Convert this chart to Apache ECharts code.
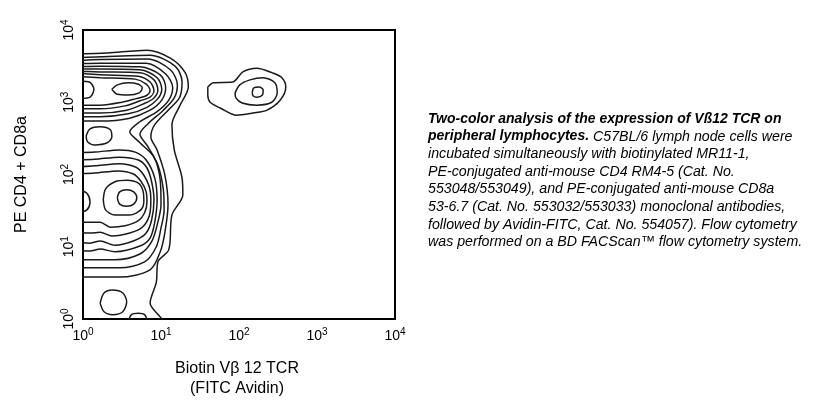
<!DOCTYPE html>
<html><head><meta charset="utf-8">
<script src="https://cdn.jsdelivr.net/npm/echarts@6/dist/echarts.min.js"></script>
<style>html,body{margin:0;padding:0;background:#fff}#c{width:815px;height:404px}</style>
</head><body><div id="c"></div>
<script>
// Axis decades (log10 of fluorescence), tick labels are 10^n
const tickExponents = [0, 1, 2, 3, 4];
const xTitle = 'Biotin V\u03b2 12 TCR\n(FITC Avidin)';
const yTitle = 'PE CD4 + CD8a';

// Contour lines, points given as [log10 FITC, log10 PE]
const E1 = [[-0.15,3.67],[0.03,3.67],[0.31,3.68],[0.82,3.72],[1.12,3.61],[1.31,3.41],[1.35,3.21],[1.24,2.95],[1.14,2.69],[1.17,2.34],[1.27,1.95],[1.28,1.72],[1.14,1.44],[1.10,0.96],[0.96,0.79],[0.94,0.51],[0.86,0.22],[1.01,0],[1.06,-0.15],[-0.15,-0.15]];
const E2 = [[-0.15,3.61],[0.22,3.63],[0.86,3.65],[1.18,3.50],[1.27,3.28],[1.24,3.07],[1.12,2.92],[0.92,2.69],[0.87,2.52],[0.95,2.34],[1.05,1.99],[1.09,1.58],[1.05,1.20],[0.99,0.93],[0.86,0.68],[0.47,0.58],[0.15,0.58],[-0.15,0.58]];
const E3 = [[-0.15,3.57],[0.22,3.59],[0.83,3.60],[1.12,3.45],[1.21,3.24],[1.17,3.06],[1.03,2.89],[0.83,2.70],[0.73,2.56],[0.83,2.39],[0.96,2.13],[1.03,1.79],[1.04,1.51],[1.00,1.26],[0.94,1.00],[0.79,0.79],[0.47,0.71],[0.15,0.71],[-0.15,0.71]];
const E4 = [[-0.15,3.53],[0.22,3.54],[0.81,3.54],[1.06,3.39],[1.15,3.20],[1.10,3.03],[0.95,2.87],[0.73,2.73],[0.60,2.59],[0.73,2.44],[0.91,2.24],[0.99,1.92],[1.00,1.58],[0.96,1.34],[0.88,1.07],[0.73,0.90],[0.41,0.82],[0.15,0.82],[-0.15,0.82]];
const T1 = [[-0.15,3.49],[0.22,3.50],[0.73,3.49],[0.99,3.38],[1.06,3.20],[1.01,3.03],[0.86,2.89],[0.60,2.78],[0.22,2.74],[-0.15,2.74]];
const T2 = [[-0.15,3.46],[0.22,3.46],[0.73,3.45],[0.95,3.34],[1.01,3.18],[0.96,3.05],[0.82,2.93],[0.58,2.84],[0.22,2.80],[-0.15,2.80]];
const T3 = [[-0.15,3.43],[0.22,3.42],[0.73,3.41],[0.91,3.31],[0.96,3.17],[0.91,3.06],[0.78,2.98],[0.56,2.89],[0.22,2.85],[-0.15,2.85]];
const T4 = [[-0.15,3.41],[0.22,3.38],[0.71,3.36],[0.86,3.28],[0.91,3.16],[0.86,3.07],[0.73,3.02],[0.54,2.95],[0.22,2.91],[-0.15,2.91]];
const T5 = [[-0.15,3.36],[0.22,3.34],[0.67,3.32],[0.81,3.25],[0.86,3.16],[0.81,3.09],[0.68,3.05],[0.50,3.00],[0.22,2.96],[-0.15,2.96]];
const TI = [[0.37,3.18],[0.44,3.24],[0.58,3.27],[0.71,3.25],[0.76,3.20],[0.72,3.13],[0.58,3.10],[0.44,3.11],[0.37,3.18]];
const TL = [[-0.05,3.29],[0.08,3.28],[0.14,3.18],[0.09,3.07],[-0.05,3.05]];
const M1 = [[0.04,2.53],[0.09,2.63],[0.22,2.66],[0.35,2.62],[0.37,2.52],[0.31,2.44],[0.15,2.41],[0.06,2.45],[0.04,2.53]];
const Q4 = [[-0.15,2.30],[0.15,2.31],[0.47,2.34],[0.67,2.31],[0.81,2.20],[0.92,1.95],[0.95,1.65],[0.92,1.34],[0.86,1.12],[0.73,1.01],[0.41,0.93],[0.22,0.97],[0.09,0.94],[-0.15,0.96]];
const Q3 = [[-0.15,2.20],[0.15,2.21],[0.47,2.24],[0.71,2.20],[0.82,2.09],[0.88,1.90],[0.91,1.65],[0.88,1.37],[0.81,1.19],[0.67,1.09],[0.41,1.02],[0.22,1.08],[0.09,1.05],[-0.15,1.07]];
const Q2 = [[-0.15,2.10],[0.15,2.12],[0.47,2.15],[0.68,2.10],[0.78,1.99],[0.85,1.83],[0.87,1.65],[0.85,1.43],[0.76,1.27],[0.60,1.19],[0.37,1.15],[0.22,1.20],[0.09,1.19],[-0.15,1.20]];
const Q1 = [[-0.15,2.01],[0.15,2.02],[0.45,2.05],[0.64,2.01],[0.74,1.91],[0.81,1.76],[0.82,1.62],[0.79,1.47],[0.71,1.36],[0.54,1.29],[0.35,1.27],[0.22,1.34],[0.09,1.34],[-0.15,1.34]];
const P1 = [[0.26,1.65],[0.29,1.80],[0.41,1.90],[0.56,1.92],[0.71,1.88],[0.77,1.77],[0.78,1.63],[0.74,1.51],[0.60,1.44],[0.41,1.44],[0.29,1.51],[0.26,1.65]];
const P0 = [[0.44,1.68],[0.47,1.76],[0.56,1.79],[0.65,1.76],[0.69,1.68],[0.65,1.59],[0.56,1.56],[0.47,1.59],[0.44,1.68]];
const LL = [[-0.05,1.79],[0.05,1.74],[0.09,1.62],[0.05,1.51],[-0.05,1.47]];
const B1 = [[0.22,0.22],[0.27,0.36],[0.38,0.40],[0.51,0.36],[0.56,0.24],[0.51,0.10],[0.38,0.06],[0.27,0.10],[0.22,0.22]];
const B2 = [[0.58,-0.04],[0.62,0.06],[0.71,0.08],[0.79,0.06],[0.83,-0.04]];
const R1 = [[1.60,3.21],[1.67,3.27],[1.92,3.28],[2.05,3.42],[2.23,3.47],[2.42,3.41],[2.55,3.34],[2.60,3.21],[2.53,3.03],[2.36,2.89],[2.18,2.85],[1.97,2.82],[1.76,2.92],[1.63,3.00],[1.60,3.10],[1.60,3.21]];
const R2 = [[1.95,3.13],[2.01,3.24],[2.14,3.31],[2.31,3.34],[2.46,3.27],[2.49,3.13],[2.42,3.00],[2.23,2.96],[2.04,2.99],[1.96,3.06],[1.95,3.13]];
const R3 = [[2.17,3.14],[2.19,3.20],[2.26,3.21],[2.31,3.17],[2.30,3.10],[2.23,3.07],[2.18,3.09],[2.17,3.14]];

const contours = [E1,E2,E3,E4,T1,T2,T3,T4,T5,TI,TL,M1,Q4,Q3,Q2,Q1,P1,P0,LL,B1,B2,R1,R2,R3];

const captionLines = [
  [['b','Two-color analysis of the expression of V\u00df12 TCR on']],
  [['b','peripheral lymphocytes.'],['i',' C57BL/6 lymph node cells were']],
  [['i','incubated simultaneously with biotinylated MR11-1,']],
  [['i','PE-conjugated anti-mouse CD4 RM4-5 (Cat. No.']],
  [['i','553048/553049), and PE-conjugated anti-mouse CD8a']],
  [['i','53-6.7 (Cat. No. 553032/553033) monoclonal antibodies,']],
  [['i','followed by Avidin-FITC, Cat. No. 554057). Flow cytometry']],
  [['i','was performed on a BD FACScan\u2122 flow cytometry system.']]
];

const FONT = '"Liberation Sans", Arial, sans-serif';
const labelRich = {
  b: {fontSize: 14, fontFamily: FONT, color: '#000', lineHeight: 18},
  s: {fontSize: 10, fontFamily: FONT, color: '#000', verticalAlign: 'top', lineHeight: 18}
};
const fmt = v => tickExponents.includes(v) ? '{b|10}{s|' + v + '}' : '';

const chart = echarts.init(document.getElementById('c'));
chart.setOption({
  backgroundColor: '#fff',
  animation: false,
  grid: {left: 83, right: 420, top: 30, bottom: 85, show: true, borderColor: '#000', borderWidth: 2, backgroundColor: 'transparent'},
  xAxis: {
    type: 'value', min: 0, max: 4, interval: 1,
    axisLine: {show: false}, axisTick: {show: false}, splitLine: {show: false},
    axisLabel: {formatter: fmt, rich: labelRich, margin: 8}
  },
  yAxis: {
    type: 'value', min: 0, max: 4, interval: 1,
    axisLine: {show: false}, axisTick: {show: false}, splitLine: {show: false},
    axisLabel: {formatter: fmt, rich: labelRich, rotate: 90, margin: 5},
    name: yTitle, nameLocation: 'middle', nameRotate: 90, nameGap: 53,
    nameTextStyle: {fontSize: 16, fontFamily: FONT, color: '#000'}
  },
  title: {
    text: xTitle, left: 232, top: 354, textAlign: 'center',
    textStyle: {fontSize: 16, fontWeight: 'normal', fontFamily: FONT, color: '#000', lineHeight: 20}
  },
  graphic: [{
    type: 'text', left: 428, top: 112,
    style: {
      text: captionLines.map(l => l.map(([k, t]) => '{' + k + '|' + t + '}').join('')).join('\n'),
      rich: {
        b: {fontSize: 14, fontStyle: 'italic', fontWeight: 'bold', fontFamily: FONT, fill: '#000', lineHeight: 17.6},
        i: {fontSize: 14.2, fontStyle: 'italic', fontFamily: FONT, fill: '#000', lineHeight: 17.6}
      }
    }
  }],
  series: contours.map(c => ({
    type: 'line', data: c, showSymbol: false, smooth: 0.3, clip: true, silent: true,
    lineStyle: {color: '#1a1a1a', width: 1.5}
  }))
});
</script></body></html>
